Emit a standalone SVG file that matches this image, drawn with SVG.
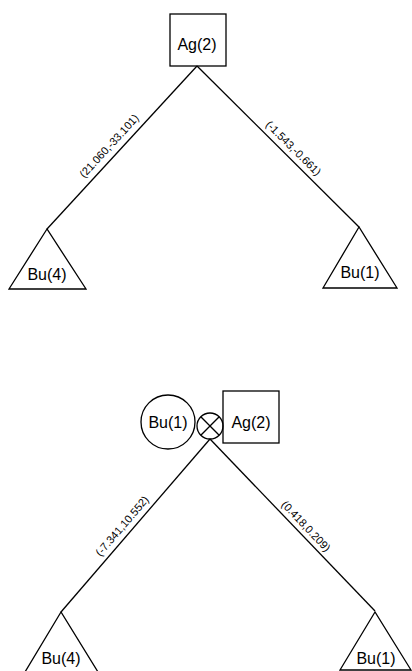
<svg xmlns="http://www.w3.org/2000/svg" width="412" height="671" viewBox="0 0 412 671">
<style>
.s{fill:none;stroke:#000;stroke-width:1.3}
.n{font-family:"Liberation Sans",Arial,sans-serif;font-size:16px;fill:#000;text-anchor:middle}
.e{font-family:"Liberation Sans",Arial,sans-serif;font-size:11px;fill:#000;text-anchor:middle}
</style>
<rect width="412" height="671" fill="#fff"/>
<g id="connectors">
<line class="s" x1="197" y1="66" x2="47" y2="229"/>
<line class="s" x1="197" y1="66" x2="359" y2="227"/>
<line class="s" x1="210" y1="439" x2="61" y2="612"/>
<line class="s" x1="210" y1="439" x2="375" y2="611"/>
<text class="e" x="111.9" y="148.6" transform="rotate(-47.4 111.9 148.6)">(21.060,-33.101)</text>
<text class="e" x="290.7" y="150.8" transform="rotate(44.8 290.7 150.8)">(-1.543,-0.661)</text>
<text class="e" x="125" y="528.5" transform="rotate(-49.4 125 528.5)">(-7.341,10.552)</text>
<text class="e" x="303.2" y="528.7" transform="rotate(46.4 303.2 528.7)">(0.418,0.209)</text>
</g>
<g id="top-ag2">
<rect class="s" x="170" y="14" width="56" height="52"/>
<text class="n" x="197" y="50">Ag(2)</text>
</g>
<g id="top-bu4">
<polygon class="s" points="47,229 9,289 86,289"/>
<text class="n" x="47" y="280">Bu(4)</text>
</g>
<g id="top-bu1">
<polygon class="s" points="359,227 323,288 397,288"/>
<text class="n" x="360" y="278">Bu(1)</text>
</g>
<g id="bottom-bu1-circle">
<circle class="s" cx="168" cy="422" r="27"/>
<text class="n" x="168" y="428">Bu(1)</text>
</g>
<g id="bottom-cross">
<circle class="s" cx="210" cy="426" r="13"/>
<line class="s" x1="200.8" y1="416.8" x2="219.2" y2="435.2"/>
<line class="s" x1="219.2" y1="416.8" x2="200.8" y2="435.2"/>
</g>
<g id="bottom-ag2">
<rect class="s" x="223" y="391" width="56" height="52"/>
<text class="n" x="251" y="428">Ag(2)</text>
</g>
<g id="bottom-bu4">
<polygon class="s" points="61,612 25,672 98,672"/>
<text class="n" x="61" y="664">Bu(4)</text>
</g>
<g id="bottom-bu1">
<polygon class="s" points="375,612 340,670 411,670"/>
<text class="n" x="376" y="664">Bu(1)</text>
</g>
</svg>
